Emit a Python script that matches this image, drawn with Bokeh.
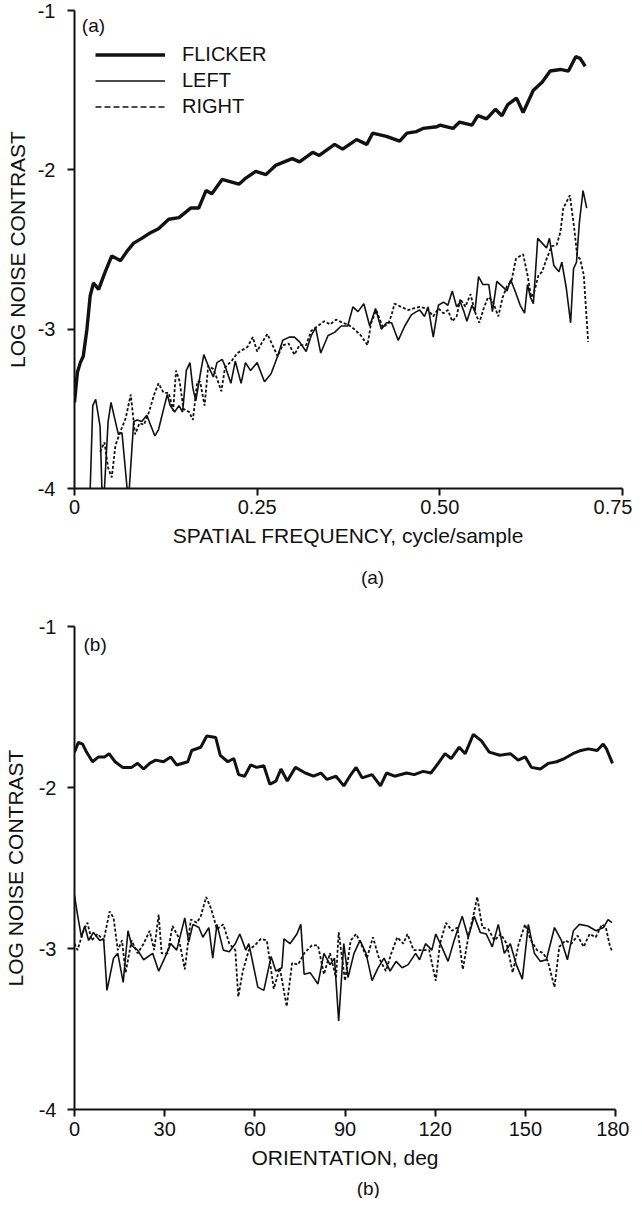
from bokeh.plotting import figure
from bokeh.models import FixedTicker, Label, Legend, LegendItem, Range1d
from bokeh.layouts import column
from bokeh.embed import file_html
from bokeh.resources import INLINE

# ---------------- data: panel (a) ----------------
a_x_ticks = [0, 0.25, 0.5, 0.75]
a_x_tick_labels = ["0", "0.25", "0.50", "0.75"]
y_ticks = [-4, -3, -2, -1]
y_tick_labels = ["-4", "-3", "-2", "-1"]

a_flicker_x = [0, 0.004, 0.008, 0.012, 0.017, 0.0215, 0.026, 0.033, 0.042, 0.051, 0.063, 0.072,
               0.081, 0.092, 0.102, 0.115, 0.129, 0.143, 0.159, 0.17, 0.18, 0.188, 0.202, 0.225,
               0.235, 0.248, 0.262, 0.276, 0.298, 0.308, 0.326, 0.335, 0.356, 0.367, 0.386, 0.40,
               0.408, 0.427, 0.445, 0.455, 0.468, 0.477, 0.496, 0.50, 0.518, 0.527, 0.544, 0.552,
               0.564, 0.576, 0.585, 0.593, 0.605, 0.614, 0.628, 0.640, 0.651, 0.665, 0.676, 0.686,
               0.692, 0.699]
a_flicker_y = [-3.46, -3.27, -3.21, -3.17, -3.0, -2.79, -2.71, -2.75, -2.64, -2.54, -2.57, -2.51,
               -2.46, -2.43, -2.40, -2.37, -2.31, -2.30, -2.24, -2.24, -2.13, -2.15, -2.06, -2.09,
               -2.05, -2.01, -2.03, -1.97, -1.93, -1.95, -1.89, -1.91, -1.84, -1.87, -1.81, -1.84,
               -1.77, -1.79, -1.82, -1.77, -1.76, -1.74, -1.73, -1.72, -1.74, -1.70, -1.72, -1.66,
               -1.68, -1.62, -1.66, -1.59, -1.55, -1.64, -1.50, -1.45, -1.38, -1.37, -1.38, -1.29,
               -1.30, -1.35]

a_left_x = [0.0215, 0.025, 0.029, 0.035, 0.0375, 0.041, 0.046, 0.050, 0.056, 0.060, 0.065, 0.072,
            0.075, 0.081, 0.086, 0.092, 0.099, 0.104, 0.110, 0.115, 0.122, 0.127, 0.131, 0.137,
            0.143, 0.148, 0.153, 0.158, 0.162, 0.166, 0.173, 0.177, 0.183, 0.19, 0.195, 0.202,
            0.206, 0.214, 0.22, 0.228, 0.234, 0.241, 0.25, 0.26, 0.269, 0.278, 0.285, 0.294,
            0.301, 0.308, 0.317, 0.324, 0.33, 0.337, 0.347, 0.356, 0.365, 0.374, 0.381, 0.388,
            0.396, 0.404, 0.412, 0.42, 0.427, 0.434, 0.443, 0.452, 0.461, 0.468, 0.4725, 0.479,
            0.484, 0.491, 0.498, 0.505, 0.511, 0.517, 0.523, 0.528, 0.533, 0.537, 0.544, 0.548,
            0.553, 0.559, 0.567, 0.572, 0.578, 0.585, 0.592, 0.597, 0.603, 0.61, 0.616, 0.62,
            0.624, 0.628, 0.634, 0.64, 0.646, 0.65, 0.656, 0.663, 0.667, 0.673, 0.679, 0.683,
            0.687, 0.691, 0.696, 0.701]
a_left_y = [-4, -3.48, -3.44, -3.61, -4, -4, -3.58, -3.46, -3.58, -3.66, -3.65, -4,
            -4, -3.58, -3.57, -3.58, -3.54, -3.60, -3.67, -3.63, -3.50, -3.41, -3.48, -3.52,
            -3.48, -3.52, -3.26, -3.21, -3.37, -3.45, -3.26, -3.16, -3.23, -3.30, -3.21, -3.19,
            -3.23, -3.34, -3.20, -3.34, -3.21, -3.26, -3.21, -3.33, -3.28, -3.17, -3.07, -3.05,
            -3.05, -3.08, -3.14, -3.04, -2.99, -3.15, -3.04, -3.02, -2.98, -2.98, -2.86, -2.89,
            -2.84, -2.98, -2.87, -3.00, -2.96, -2.96, -3.07, -2.98, -2.91, -2.89, -2.88, -2.92,
            -2.86, -3.05, -2.85, -2.83, -2.85, -2.76, -2.86, -2.83, -2.89, -2.95, -2.85, -2.89,
            -2.67, -2.72, -2.72, -2.89, -2.70, -2.73, -2.76, -2.69, -2.76, -2.85, -2.90, -2.72,
            -2.80, -2.84, -2.43, -2.46, -2.49, -2.43, -2.60, -2.64, -2.58, -2.74, -2.96, -2.62,
            -2.58, -2.33, -2.13, -2.24]

a_right_x = [0.035, 0.041, 0.046, 0.051, 0.056, 0.063, 0.070, 0.077, 0.080, 0.083, 0.089, 0.095,
             0.102, 0.109, 0.115, 0.122, 0.129, 0.135, 0.139, 0.144, 0.149, 0.157, 0.162, 0.168,
             0.172, 0.178, 0.183, 0.19, 0.195, 0.201, 0.206, 0.215, 0.223, 0.23, 0.237, 0.244,
             0.25, 0.257, 0.264, 0.271, 0.278, 0.285, 0.293, 0.301, 0.308, 0.317, 0.324, 0.333,
             0.342, 0.35, 0.358, 0.367, 0.374, 0.383, 0.392, 0.401, 0.406, 0.413, 0.422, 0.43,
             0.434, 0.438, 0.447, 0.457, 0.464, 0.4725, 0.482, 0.491, 0.498, 0.505, 0.511, 0.517,
             0.523, 0.528, 0.535, 0.542, 0.548, 0.554, 0.56, 0.566, 0.572, 0.58, 0.586, 0.592,
             0.598, 0.604, 0.61, 0.614, 0.62, 0.625, 0.629, 0.635, 0.64, 0.646, 0.653, 0.66,
             0.665, 0.669, 0.678, 0.684, 0.688, 0.692, 0.697, 0.703]
a_right_y = [-3.77, -3.71, -3.87, -3.93, -3.73, -3.64, -3.56, -3.41, -3.54, -3.66, -3.59, -3.60,
             -3.52, -3.41, -3.34, -3.40, -3.40, -3.51, -3.26, -3.33, -3.50, -3.52, -3.57, -3.33,
             -3.33, -3.48, -3.23, -3.25, -3.31, -3.39, -3.24, -3.20, -3.15, -3.13, -3.11, -3.05,
             -3.14, -3.08, -3.03, -3.10, -3.17, -3.10, -3.09, -3.16, -3.10, -3.10, -3.01, -2.98,
             -2.95, -2.97, -2.94, -2.96, -2.97, -3.00, -3.04, -3.10, -2.96, -2.88, -2.99, -2.96,
             -2.91, -2.84, -2.86, -2.88, -2.87, -2.86, -2.87, -2.92, -2.87, -2.90, -2.88, -2.95,
             -2.92, -2.81, -2.86, -2.78, -2.89, -2.96, -2.87, -2.80, -2.82, -2.92, -2.80, -2.73,
             -2.70, -2.56, -2.54, -2.53, -2.66, -2.80, -2.77, -2.66, -2.64, -2.56, -2.48, -2.47,
             -2.39, -2.24, -2.16, -2.37, -2.54, -2.56, -2.66, -3.08]

# ---------------- data: panel (b) ----------------
b_x_ticks = [0, 30, 60, 90, 120, 150, 180]
b_x_tick_labels = ["0", "30", "60", "90", "120", "150", "180"]

b_flicker_x = [0, 1.3, 2.7, 4, 6, 8, 10, 11.5, 13.5, 16, 19, 21, 23, 25, 27, 29.6, 32, 34, 37.7,
               39, 42, 44, 47, 48.5, 51, 53, 54.6, 56.6, 58.6, 60.6, 63, 65, 67, 68.7, 70.8, 73.5,
               76.8, 79.5, 82, 84, 87, 89.6, 91.6, 93.7, 95.7, 99, 101.8, 103.8, 106.5, 110.5,
               113, 116, 118.6, 121, 123.3, 125.3, 128, 130, 132.7, 135.4, 138, 141.5, 145, 147.6,
               150, 152, 155, 157.7, 160.4, 163, 165.8, 168.5, 171, 173.9, 175.9, 177, 179]
b_flicker_y = [-1.78, -1.72, -1.73, -1.78, -1.84, -1.81, -1.81, -1.79, -1.84, -1.875, -1.875,
               -1.85, -1.885, -1.85, -1.83, -1.84, -1.81, -1.86, -1.84, -1.77, -1.75, -1.68, -1.69,
               -1.80, -1.84, -1.82, -1.92, -1.93, -1.86, -1.875, -1.865, -1.98, -1.96, -1.885,
               -1.96, -1.875, -1.91, -1.93, -1.91, -1.95, -1.93, -1.99, -1.93, -1.875, -1.94,
               -1.92, -1.99, -1.91, -1.93, -1.91, -1.92, -1.90, -1.91, -1.85, -1.79, -1.82, -1.75,
               -1.79, -1.67, -1.71, -1.78, -1.80, -1.79, -1.83, -1.81, -1.875, -1.885, -1.85,
               -1.84, -1.82, -1.79, -1.77, -1.76, -1.77, -1.73, -1.76, -1.85]

b_left_x = [0, 1, 2.3, 3.4, 4.7, 6.3, 8.4, 9.7, 10.8, 13, 14.4, 16.2, 17.8, 19, 21, 23, 26, 28,
            30, 32, 34, 36.7, 38, 39.4, 41.4, 42.7, 44.7, 46, 47.4, 49.5, 51.5, 53.5, 55, 57, 58,
            61, 63, 65.4, 67, 69, 69.7, 71.7, 74, 75.3, 76.4, 78.4, 81, 83, 85, 86.5, 87.9, 89.6,
            91, 93, 95, 97, 99, 101, 103, 105, 107, 109, 111, 113.5, 114.8, 116.8, 118.9, 120.2,
            122.2, 124.3, 126.3, 129, 131, 133, 135, 137, 139, 141, 143, 145, 147, 149, 151, 153,
            155, 157, 159.7, 162, 164, 166, 168, 170.8, 173.5, 176, 177.5, 178.8]
b_left_y = [-2.67, -2.79, -2.93, -2.86, -2.95, -2.90, -2.95, -2.94, -3.26, -3.06, -3.03, -3.21,
            -2.89, -2.98, -3.01, -3.07, -3.03, -3.14, -3.06, -2.97, -3.01, -2.81, -2.96, -2.85,
            -2.87, -2.93, -2.87, -3.06, -2.85, -3.01, -3.02, -2.97, -2.91, -3.01, -2.97, -3.24,
            -3.26, -3.05, -3.14, -3.12, -2.94, -2.97, -2.91, -2.85, -3.16, -3.15, -3.22, -3.03,
            -3.10, -3.06, -3.45, -2.97, -3.18, -3.03, -2.95, -3.03, -3.20, -3.12, -3.06, -3.14,
            -3.08, -3.12, -3.10, -3.03, -3.07, -2.97, -3.01, -2.91, -2.99, -3.08, -2.95, -2.80,
            -2.93, -2.80, -2.90, -2.91, -2.99, -2.85, -3.03, -2.97, -3.10, -3.19, -2.85, -3.03,
            -3.08, -3.07, -2.87, -2.95, -3.07, -2.89, -2.85, -2.86, -2.89, -2.87, -2.82, -2.84]

b_right_x = [0, 1, 3, 4.3, 5.7, 7.7, 9.7, 11.7, 13, 14.4, 15.8, 17, 19, 21, 23, 25, 26.5, 28, 29,
             31, 32.6, 34.6, 36.7, 38.7, 40.7, 42, 43.8, 45.4, 47.4, 49.5, 51.5, 53.5, 54.5, 56,
             58, 60, 62, 64, 66.3, 68.3, 70.6, 72.4, 74.4, 76.4, 79, 81, 83, 85, 87, 87.9, 90,
             91.9, 93.7, 95.3, 97.3, 99.3, 101.3, 103.6, 105.4, 107.4, 109.4, 110.8, 112.8, 115.5,
             118, 120.2, 121.6, 123.6, 125.6, 127.4, 129.2, 131, 133, 134, 135.7, 137.7, 139.7,
             141.8, 143.8, 145.8, 147.8, 149.9, 151.9, 153.9, 156, 157.5, 159.7, 161.3, 163.3,
             165.3, 167.4, 169.4, 171.4, 173.4, 175.5, 176.8, 178.2, 179]
b_right_y = [-2.97, -3.01, -2.89, -2.84, -2.95, -2.91, -2.95, -2.77, -2.81, -3.01, -2.95, -3.15,
             -2.95, -3.03, -2.97, -2.89, -3.01, -2.79, -3.03, -3.03, -2.86, -2.93, -3.13, -2.82,
             -2.84, -2.80, -2.68, -2.75, -2.88, -2.85, -2.97, -3.01, -3.30, -3.14, -3.01, -2.98,
             -2.94, -2.95, -3.25, -3.12, -3.36, -3.09, -3.10, -3.03, -2.98, -2.98, -3.16, -3.03,
             -3.18, -2.90, -3.20, -2.95, -2.91, -2.97, -3.06, -2.93, -3.06, -3.14, -3.03, -2.93,
             -2.97, -2.91, -3.01, -3.01, -3.01, -3.20, -2.97, -2.84, -2.89, -2.87, -3.13, -2.93,
             -2.77, -2.68, -2.87, -2.88, -2.95, -2.91, -2.97, -3.15, -2.97, -2.85, -2.95, -3.01,
             -3.03, -3.08, -3.24, -2.99, -2.95, -2.97, -2.92, -2.99, -2.91, -2.93, -2.85, -2.87,
             -2.99, -3.02]

legend_labels = ["FLICKER", "LEFT", "RIGHT"]
captions = ["(a)", "(b)"]

FONT = "Liberation Sans"
INK = "#111111"
NAN = float("nan")


def style_axes(p, xticks, xlabels, xtitle, ytitle, lab_stand_x, lab_stand_y,
               ax_stand_x, ax_stand_y):
    p.xgrid.visible = False
    p.ygrid.visible = False
    p.outline_line_color = None
    p.background_fill_color = "white"
    p.border_fill_color = "white"
    p.xaxis.ticker = FixedTicker(ticks=xticks)
    p.xaxis.major_label_overrides = dict(zip(xticks, xlabels))
    p.yaxis.ticker = FixedTicker(ticks=y_ticks)
    p.yaxis.major_label_overrides = dict(zip(y_ticks, y_tick_labels))
    for ax in (p.xaxis, p.yaxis):
        ax.axis_line_width = 2
        ax.axis_line_color = INK
        ax.major_tick_line_width = 2
        ax.major_tick_line_color = INK
        ax.major_tick_in = 0
        ax.major_tick_out = 7
        ax.minor_tick_line_color = None
        ax.major_label_text_font = FONT
        ax.major_label_text_font_size = "20px"
        ax.major_label_text_color = INK
        ax.axis_label_text_font = FONT
        ax.axis_label_text_font_size = "21px"
        ax.axis_label_text_font_style = "normal"
        ax.axis_label_text_color = INK
    p.xaxis.axis_label = xtitle
    p.yaxis.axis_label = ytitle
    p.xaxis.major_label_standoff = lab_stand_x
    p.yaxis.major_label_standoff = lab_stand_y
    p.xaxis.axis_label_standoff = ax_stand_x
    p.yaxis.axis_label_standoff = ax_stand_y


def caption_strip(height, x, y, text):
    c = figure(width=626, height=height, output_backend="svg", toolbar_location=None,
               x_range=Range1d(0, 1), y_range=Range1d(0, 1),
               x_axis_type=None, y_axis_type=None, min_border=0)
    c.outline_line_color = None
    c.xgrid.visible = False
    c.ygrid.visible = False
    c.add_layout(Label(x=x, y=y, text=text, text_font=FONT, text_font_size="19px",
                       text_baseline="middle", text_align="center", text_color=INK))
    return c


# ---------------- panel (a) ----------------
pa = figure(frame_width=548, frame_height=478, output_backend="svg", toolbar_location=None,
            x_range=Range1d(0, 0.75), y_range=Range1d(-4, -1),
            min_border_left=66, min_border_right=12, min_border_top=10, min_border_bottom=72)
style_axes(pa, a_x_ticks, a_x_tick_labels, "SPATIAL FREQUENCY, cycle/sample",
           "LOG NOISE CONTRAST", 4, 12, 7, 6)

pa.line(a_left_x, a_left_y, line_color=INK, line_width=1.6)
pa.line(a_right_x, a_right_y, line_color=INK, line_width=1.8, line_dash="3 2")
pa.line(a_flicker_x, a_flicker_y, line_color=INK, line_width=3.4)

lg_f = pa.line([NAN], [NAN], line_color=INK, line_width=3.4)
lg_l = pa.line([NAN], [NAN], line_color=INK, line_width=1.6)
lg_r = pa.line([NAN], [NAN], line_color=INK, line_width=1.6, line_dash="6 3")
legend = Legend(items=[LegendItem(label=legend_labels[0], renderers=[lg_f]),
                       LegendItem(label=legend_labels[1], renderers=[lg_l]),
                       LegendItem(label=legend_labels[2], renderers=[lg_r])],
                location=(21, 370), padding=10, glyph_width=70, glyph_height=23,
                label_height=23, spacing=3, label_standoff=17, border_line_color=None,
                background_fill_alpha=0, label_text_font=FONT, label_text_font_size="20px",
                label_text_color=INK)
pa.add_layout(legend)

pa.add_layout(Label(x=0.01, y=-1.095, text="(a)", text_font=FONT, text_font_size="19px",
                    text_baseline="middle", text_align="left", text_color=INK))

cap_a = caption_strip(40, 0.554, 0.575, captions[0])

# ---------------- panel (b) ----------------
pb = figure(frame_width=541, frame_height=483, output_backend="svg", toolbar_location=None,
            x_range=Range1d(0, 180), y_range=Range1d(-4, -1),
            min_border_left=71, min_border_right=14, min_border_top=26, min_border_bottom=67)
style_axes(pb, b_x_ticks, b_x_tick_labels, "ORIENTATION, deg",
           "LOG NOISE CONTRAST", 5, 11, 7, 9)

pb.line(b_left_x, b_left_y, line_color=INK, line_width=1.6)
pb.line(b_right_x, b_right_y, line_color=INK, line_width=1.8, line_dash="3 2")
pb.line(b_flicker_x, b_flicker_y, line_color=INK, line_width=3.0)

pb.add_layout(Label(x=3, y=-1.11, text="(b)", text_font=FONT, text_font_size="19px",
                    text_baseline="middle", text_align="left", text_color=INK))

cap_b = caption_strip(22, 0.546, 0.4545, captions[1])

layout = column(pa, cap_a, pb, cap_b, spacing=0)
open("out.html", "w").write(file_html(layout, INLINE))
